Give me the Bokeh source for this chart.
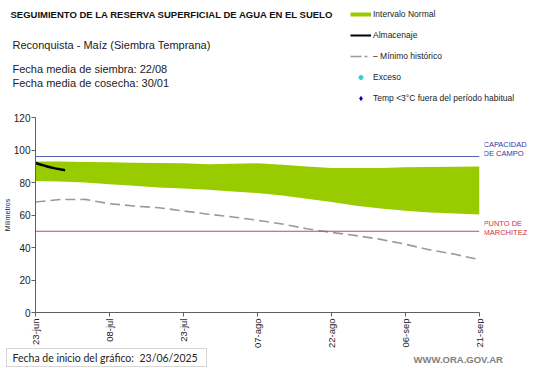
import math
from bokeh.plotting import figure
from bokeh.layouts import column, row
from bokeh.models import (Range1d, FixedTicker, Label, Legend, LegendItem, Span,
                          BoxAnnotation)
from bokeh.embed import file_html
from bokeh.resources import INLINE

# ---------------- data ----------------
dias_banda = [0, 5, 10, 15, 20, 25, 30, 35, 40, 45, 50, 55, 60, 65, 70, 75, 80, 85, 90]
banda_sup = [93.0, 93.0, 92.6, 92.5, 92.2, 92.0, 91.8, 91.3, 91.5, 91.8, 91.0, 89.8, 89.0, 89.0, 89.0, 89.4, 89.5, 89.7, 89.8]
banda_inf = [81.0, 80.6, 80.0, 79.0, 78.0, 77.0, 76.3, 75.5, 74.5, 73.5, 72.0, 70.0, 68.0, 65.7, 64.0, 62.6, 61.6, 61.0, 60.3]

dias_alm = [0, 1, 2, 3, 4, 5, 6]
almacenaje = [92.0, 91.1, 90.2, 89.4, 88.7, 88.1, 87.6]

dias_min = [0, 5, 10, 15, 20, 25, 30, 35, 40, 45, 50, 55, 60, 65, 70, 75, 80, 85, 90]
minimo = [68.0, 69.5, 69.6, 67.0, 65.5, 64.5, 62.5, 60.5, 58.8, 56.8, 54.5, 51.5, 49.3, 47.3, 45.0, 42.0, 38.5, 35.8, 32.5]

capacidad_campo = 96
punto_marchitez = 50

tick_dias = [0, 15, 30, 45, 60, 75, 90]
tick_labels = ["23-jun", "08-jul", "23-jul", "07-ago", "22-ago", "06-sep", "21-sep"]
y_ticks = [0, 20, 40, 60, 80, 100, 120]

FONT = "Liberation Sans"
W = 541
HEAD_H = 107
BOTTOM = 44
MAIN_H = 10 + 195 + BOTTOM
FOOT_H = 22
MAIN_W = 484
OVERLAP = (HEAD_H + MAIN_H + FOOT_H) - 368


def canvas(w, h, **kw):
    f = figure(width=w, height=h, x_range=Range1d(0, w), y_range=Range1d(h, 0),
               x_axis_type=None, y_axis_type=None, output_backend="svg",
               toolbar_location=None, min_border=0, **kw)
    f.outline_line_color = None
    f.xgrid.visible = False
    f.ygrid.visible = False
    return f


def txt(f, x, y, s, size, color="#222222", style="normal", font=FONT, align="left"):
    f.add_layout(Label(x=x, y=y, text=s, text_font=font, text_font_size=size,
                       text_color=color, text_font_style=style,
                       text_align=align, text_baseline="middle"))


# ---------------- header ----------------
head = canvas(W, HEAD_H)
txt(head, 10, 14, "SEGUIMIENTO DE LA RESERVA SUPERFICIAL DE AGUA EN EL SUELO", "9.5px", "#111111", "bold")
txt(head, 12, 44, "Reconquista - Maíz (Siembra Temprana)", "11px")
txt(head, 12, 68, "Fecha media de siembra: 22/08", "11px")
txt(head, 12, 82, "Fecha media de cosecha: 30/01", "11px")

off_x, off_y = [-20, -10], [-20, -20]   # dummies kept off-canvas, only for legend icons
leg_green = head.line(x=off_x, y=off_y, line_color="#99cc00", line_width=4)
leg_alm = head.line(x=off_x, y=off_y, line_color="black", line_width=2)
leg_min = head.line(x=off_x, y=off_y, line_color="#9a9a9a", line_width=1.5, line_dash="11 3 3 20")
leg_exc = head.scatter(x=off_x, y=off_y, marker="circle", size=4, fill_color="#33cccc", line_color="#33cccc")
leg_tmp = head.scatter(x=off_x, y=off_y, marker="diamond", size=6, fill_color="#000099", line_color="#000099")

legend = Legend(items=[
    LegendItem(label="Intervalo Normal", renderers=[leg_green]),
    LegendItem(label="Almacenaje", renderers=[leg_alm]),
    LegendItem(label="– Mínimo histórico", renderers=[leg_min]),
    LegendItem(label="Exceso", renderers=[leg_exc]),
    LegendItem(label="Temp <3°C fuera del período habitual", renderers=[leg_tmp]),
], location=(350, 4))
legend.border_line_color = None
legend.background_fill_alpha = 0
legend.padding = 0
legend.margin = 0
legend.spacing = 11
legend.glyph_width = 21
legend.glyph_height = 10
legend.label_height = 10
legend.label_standoff = 2
legend.label_text_font = FONT
legend.label_text_font_size = "8.5px"
legend.label_text_color = "#222222"
head.add_layout(legend, "center")

# ---------------- main chart ----------------
p = figure(width=MAIN_W, height=MAIN_H, output_backend="svg", toolbar_location=None,
           x_range=Range1d(0, 90), y_range=Range1d(0, 120),
           min_border_left=34, min_border_right=MAIN_W - 479, min_border_top=10,
           min_border_bottom=BOTTOM)
p.outline_line_color = None
p.xgrid.visible = False
p.ygrid.visible = False

p.xaxis.ticker = FixedTicker(ticks=tick_dias)
p.xaxis.major_label_overrides = {d: l for d, l in zip(tick_dias, tick_labels)}
p.xaxis.major_label_orientation = math.pi / 2
p.yaxis.ticker = FixedTicker(ticks=y_ticks)
for ax in (p.xaxis, p.yaxis):
    ax.axis_line_color = "#606060"
    ax.major_tick_line_color = "#606060"
    ax.major_tick_in = 0
    ax.major_tick_out = 4
    ax.minor_tick_line_color = None
    ax.major_label_text_font = FONT
    ax.major_label_text_color = "#222222"
p.yaxis.major_label_text_font_size = "10px"
p.yaxis.major_label_standoff = 1
p.xaxis.major_label_text_font_size = "9.5px"
p.xaxis.major_label_standoff = 2
p.yaxis.axis_label = "Milímetros"
p.yaxis.axis_label_text_font = FONT
p.yaxis.axis_label_text_font_size = "7px"
p.yaxis.axis_label_text_font_style = "normal"
p.yaxis.axis_label_text_color = "#222222"
p.yaxis.axis_label_standoff = 0

p.varea(x=dias_banda, y1=banda_inf, y2=banda_sup, fill_color="#99cc00")
p.add_layout(Span(location=capacidad_campo, dimension="width", line_color="#5565b5", line_width=1))
p.add_layout(Span(location=punto_marchitez, dimension="width", line_color="#c84848", line_width=1))
p.line(dias_min, minimo, line_color="#9a9a9a", line_width=1.6, line_dash="10 5")
p.line(dias_alm, almacenaje, line_color="black", line_width=2.5)

# right side labels (share y range with chart)
side = figure(width=W - MAIN_W, height=MAIN_H, x_range=Range1d(MAIN_W, W), y_range=p.y_range,
              x_axis_type=None, y_axis_type=None, output_backend="svg", toolbar_location=None,
              min_border_left=0, min_border_right=0, min_border_top=10, min_border_bottom=BOTTOM)
side.outline_line_color = None
side.xgrid.visible = False
side.ygrid.visible = False
txt(side, MAIN_W - 1, capacidad_campo + 7.4, "CAPACIDAD", "7.5px", "#3535a8")
txt(side, MAIN_W - 1, capacidad_campo + 1.8, "DE  CAMPO", "7.5px", "#3535a8")
txt(side, MAIN_W - 1, punto_marchitez + 4.6, "PUNTO  DE", "7.5px", "#cc3333")
txt(side, MAIN_W - 1, punto_marchitez - 0.9, "MARCHITEZ", "7.5px", "#cc3333")

# ---------------- footer ----------------
foot = canvas(W, FOOT_H)
foot.background_fill_alpha = 0
foot.border_fill_alpha = 0
foot.margin = (-OVERLAP, 0, 0, 0)
foot.add_layout(BoxAnnotation(left=6, right=206, top=2, bottom=20, fill_alpha=0,
                              line_color="#777777", line_width=1))
txt(foot, 12, 11, "Fecha de inicio del gráfico:", "10.5px", font="Lato")
txt(foot, 139, 11, "23/06/2025", "10.5px", font="Lato")
txt(foot, 413, 13, "WWW.ORA.GOV.AR", "9.5px", "#808080", "bold")

layout = column(head, row(p, side), foot)
open("out.html", "w").write(file_html(layout, INLINE))
